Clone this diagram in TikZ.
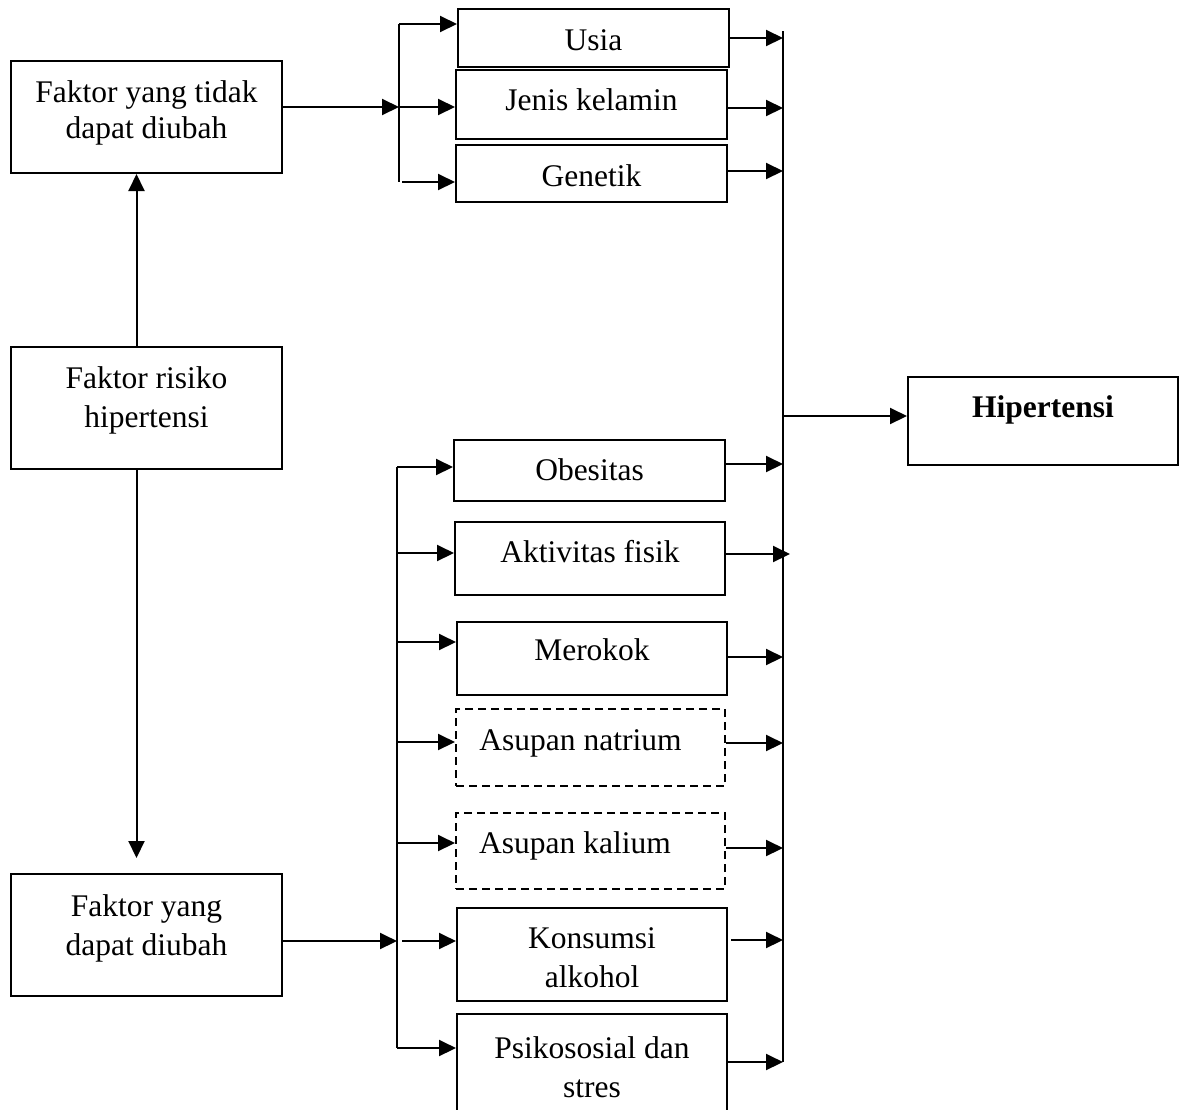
\documentclass[tikz,border=0pt]{standalone}
\usepackage{fontspec}
\setmainfont{Liberation Serif}
\usetikzlibrary{calc,arrows.meta}

\begin{document}
\begin{tikzpicture}[x=1pt,y=-1pt,line width=2pt,>={Triangle[length=17pt,width=16pt]},
                    font=\fontsize{31.5}{39}\selectfont,
                    main node/.style={rectangle,draw,anchor=north west,inner sep=0pt,align=center},
                    dashed node/.style={main node,dash pattern=on 8pt off 5pt}]

    \useasboundingbox (0,0) rectangle (1182,1109);
    \clip (0,0) rectangle (1182,1109);

    \node[main node,minimum width=271pt,minimum height=112pt,text height=46pt,text depth=4pt,
          font=\fontsize{31.5}{36}\selectfont] (1) at (10,60) {Faktor yang tidak\\dapat diubah};
    \node[main node,minimum width=271pt,minimum height=122pt,text height=42pt,text depth=4pt] (2) at (10,346) {Faktor risiko\\hipertensi};
    \node[main node,minimum width=271pt,minimum height=122pt,text height=44pt,text depth=4pt] (3) at (10,873) {Faktor yang\\dapat diubah};
    \node[main node,minimum width=271pt,minimum height=58pt,text height=26pt,text depth=2pt] (4) at (457,8) {Usia};
    \node[main node,minimum width=271pt,minimum height=69pt,text height=19.5pt,text depth=8.5pt] (5) at (455,69) {Jenis kelamin};
    \node[main node,minimum width=271pt,minimum height=57pt,text height=26.5pt,text depth=1.5pt] (6) at (455,144) {Genetik};
    \node[main node,minimum width=270pt,minimum height=88pt,text height=10pt,text depth=18pt,
          font=\fontsize{31.5}{39}\selectfont\bfseries] (7) at (907,376) {Hipertensi};
    \node[main node,minimum width=271pt,minimum height=61pt,text height=23.5pt,text depth=4.5pt] (8) at (453,439) {Obesitas};
    \node[main node,minimum width=270pt,minimum height=73pt,text height=18pt,text depth=10pt] (9) at (454,521) {Aktivitas fisik};
    \node[main node,minimum width=270pt,minimum height=73pt,text height=15.5pt,text depth=12.5pt] (10) at (456,621) {Merokok};
    \node[dashed node,minimum width=269pt,minimum height=77pt,text height=16.5pt,text depth=11.5pt] (11) at (455,708) {Asupan natrium\hspace*{20pt}};
    \node[dashed node,minimum width=269pt,minimum height=76pt,text height=16pt,text depth=12pt] (12) at (455,812) {Asupan kalium\hspace*{31pt}};
    \node[main node,minimum width=270pt,minimum height=93pt,text height=69pt,text depth=4pt] (13) at (456,907) {Konsumsi\\alkohol};
    \node[main node,minimum width=270pt,minimum height=106pt,text height=64pt,text depth=4pt] (14) at (456,1013) {Psikososial dan\\stres};

    % split points on the three bars
    \coordinate (a0) at (399,24);
    \coordinate (a1) at (399,107);
    \coordinate (a2) at (399,182);
    \coordinate (b0) at (397,467);
    \coordinate (b1) at (397,553);
    \coordinate (b2) at (397,642);
    \coordinate (b3) at (397,742);
    \coordinate (b4) at (397,843);
    \coordinate (b5) at (397,941);
    \coordinate (b6) at (397,1048);
    \coordinate (r0) at (783,31);
    \coordinate (r4) at (783,38);
    \coordinate (r5) at (783,108);
    \coordinate (r6) at (783,171);
    \coordinate (r7) at (783,416);
    \coordinate (r8) at (783,464);
    \coordinate (r9) at (790,554);
    \coordinate (r10) at (783,657);
    \coordinate (r11) at (783,743);
    \coordinate (r12) at (783,848);
    \coordinate (r13) at (783,940);
    \coordinate (r14) at (783,1062);

    \draw (a0) -- (a2);
    \draw (b0) -- (b6);
    \draw (r0) -- (r14);

    \path[->]
      ([xshift=-10pt]2.north) edge ([xshift=-10pt]1.south)
      ([xshift=-10pt]2.south) edge [shorten >=15pt] ([xshift=-10pt]3.north)
      (1.east |- a1) edge (a1)
      (a0) edge (a0 -| 4.west)
      (a1) edge (a1 -| 5.west)
      ([xshift=3pt]a2) edge (a2 -| 6.west)
      (3.east |- b5) edge (b5)
      (b0) edge (b0 -| 8.west)
      (b1) edge (b1 -| 9.west)
      (b2) edge (b2 -| 10.west)
      ([xshift=1pt]b3) edge (b3 -| 11.west)
      (b4) edge (b4 -| 12.west)
      ([xshift=5pt]b5) edge (b5 -| 13.west)
      (b6) edge (b6 -| 14.west)
      (r4 -| 4.east) edge (r4)
      (r5 -| 5.east) edge (r5)
      (r6 -| 6.east) edge (r6)
      (r8 -| 8.east) edge (r8)
      (r9 -| 9.east) edge (r9)
      (r10 -| 10.east) edge (r10)
      (r11 -| 11.east) edge (r11)
      (r12 -| 12.east) edge (r12)
      ([xshift=3pt]r13 -| 13.east) edge (r13)
      (r14 -| 14.east) edge (r14)
      (r7) edge (r7 -| 7.west);
\end{tikzpicture}
\end{document}
